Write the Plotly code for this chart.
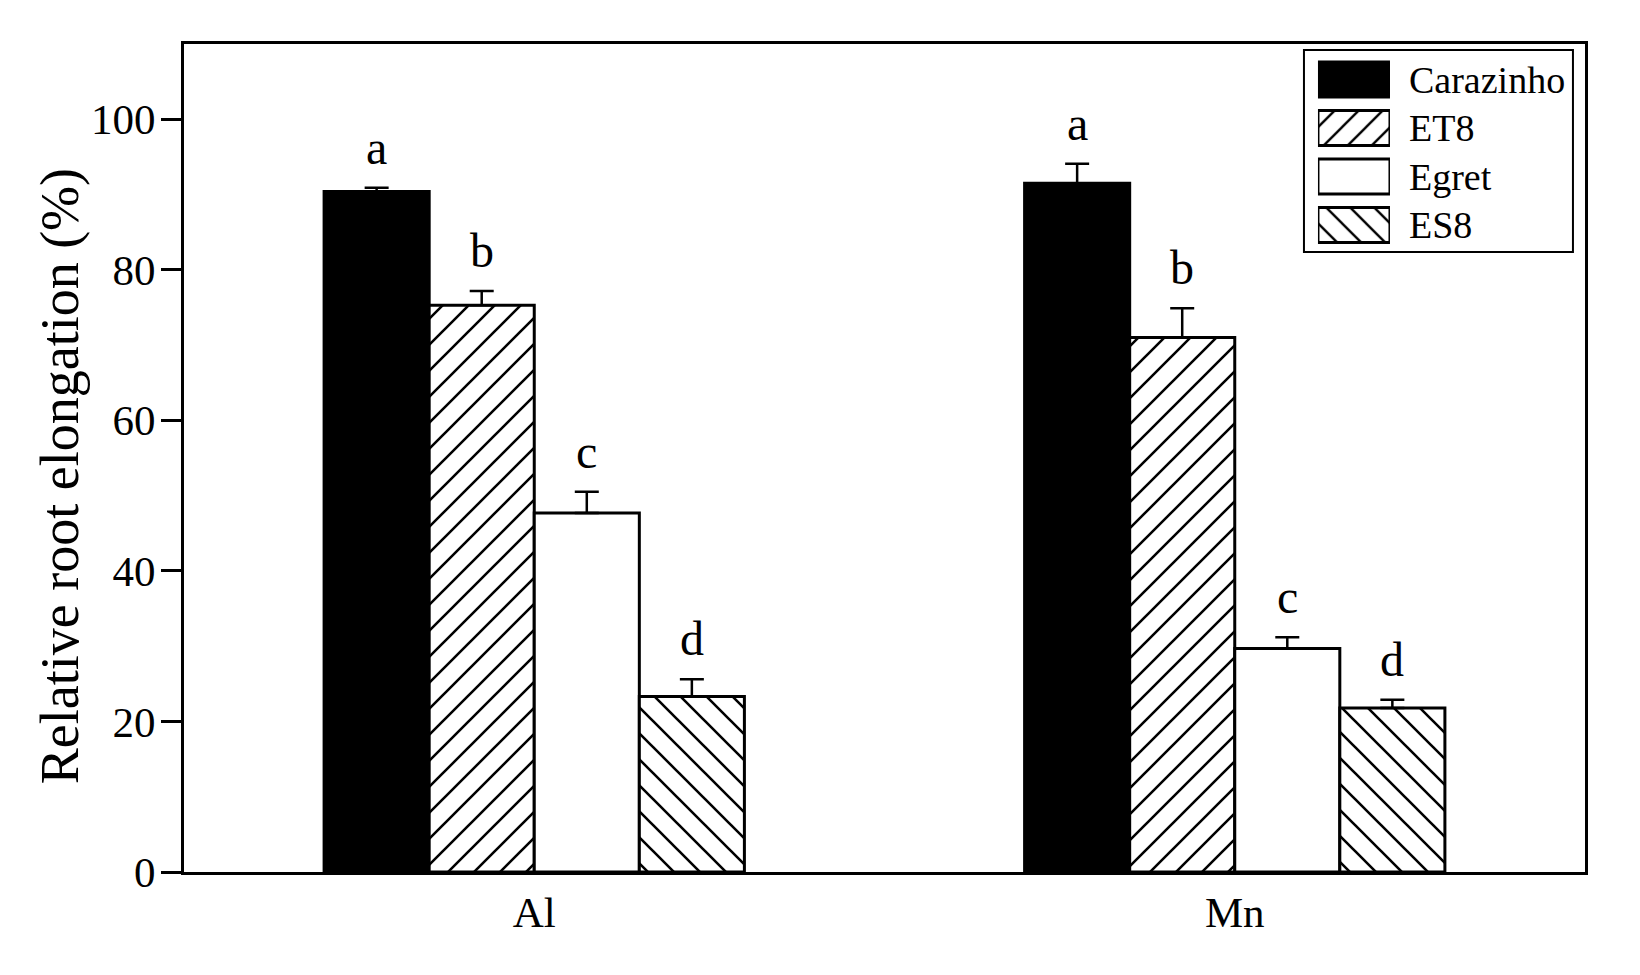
import math
import plotly.graph_objects as go

# metal treatments on the x axis
treatments = ["Al", "Mn"]

# genotypes (series)
genotypes = ["Carazinho", "ET8", "Egret", "ES8"]

# relative root elongation (%) and standard errors
carazinho = [90.4, 91.5]
carazinho_err = [0.5, 2.6]
et8 = [75.3, 71.0]
et8_err = [1.9, 3.9]
egret = [47.7, 29.7]
egret_err = [2.8, 1.5]
es8 = [23.3, 21.8]
es8_err = [2.3, 1.1]

# significance letters
letters = ["a", "b", "c", "d"]

y_ticks = [0, 20, 40, 60, 80, 100]

FONT = "Liberation Serif"
values = [carazinho, et8, egret, es8]
errors = [carazinho_err, et8_err, egret_err, es8_err]
fills = ["black", "white", "white", "white"]
hatches = ["", "/", "", "\\"]

# plotly's diagonal tile is size*sqrt(2) wide, so pick sizes giving whole-pixel tiles
hatch_size = 26 / math.sqrt(2)
legend_hatch_size = 24 / math.sqrt(2)

fig = go.Figure()

for name, vals, errs, fill, hatch in zip(genotypes, values, errors, fills, hatches):
    fig.add_trace(go.Bar(
        x=treatments,
        y=vals,
        name=name,
        marker=dict(color=fill,
                    line=dict(color="black", width=3),
                    pattern=dict(shape=hatch, fgcolor="black", bgcolor=fill,
                                 fgopacity=1, fillmode="replace",
                                 size=hatch_size, solidity=0.14)),
        error_y=dict(type="data", array=errs, symmetric=False,
                     arrayminus=[0] * len(errs),
                     color="black", thickness=2.5, width=12),
        showlegend=False,
    ))

# letters above each bar
bar_w = 0.15
for j, (vals, errs) in enumerate(zip(values, errors)):
    for i in range(len(treatments)):
        fig.add_annotation(x=i + (j - 1.5) * bar_w, y=vals[i] + errs[i],
                           xref="x", yref="y", text=letters[j],
                           showarrow=False, yanchor="bottom", yshift=12,
                           font=dict(family=FONT, size=48, color="black"))

# y-axis title (sits a little below the plot centre in the original)
fig.add_annotation(x=-0.0885, y=0.478, xref="paper", yref="paper",
                   text="Relative root elongation (%)", textangle=-90,
                   showarrow=False, xanchor="center", yanchor="middle",
                   font=dict(family=FONT, size=54, color="black"))

# legend drawn as a small inset bar chart so the swatches keep their hatching;
# one trace per genotype, all in the same offsetgroup so they stack in one column
for name, fill, hatch in zip(genotypes, fills, hatches):
    fig.add_trace(go.Bar(
        x=[1],
        y=[name],
        orientation="h",
        width=0.72,
        offsetgroup="legend",
        xaxis="x2", yaxis="y2",
        marker=dict(color=fill,
                    line=dict(color="black", width=3),
                    pattern=dict(shape=hatch, fgcolor="black", bgcolor=fill,
                                 fgopacity=1, fillmode="replace",
                                 size=legend_hatch_size, solidity=0.14)),
        showlegend=False,
        hoverinfo="skip",
    ))

axis_font = dict(family=FONT, size=43, color="black")

fig.update_layout(
    width=1640,
    height=975,
    margin=dict(l=176, r=63, t=36, b=111),
    paper_bgcolor="white",
    plot_bgcolor="white",
    barmode="group",
    bargap=0.4,
    bargroupgap=0,
    showlegend=False,
    xaxis=dict(type="category", range=[-0.5, 1.5], showline=True, linecolor="black",
               linewidth=3, mirror=True, ticks="", showgrid=False, zeroline=False,
               tickfont=axis_font, ticklabelstandoff=0),
    yaxis=dict(range=[0, 110], tickvals=y_ticks, showline=True, linecolor="black",
               linewidth=3, mirror=True, ticks="outside", ticklen=20, tickwidth=3,
               tickcolor="black", showgrid=False, zeroline=False, tickfont=axis_font,
               ticklabelstandoff=-3),
    xaxis2=dict(domain=[0.8094, 0.8608], anchor="y2", range=[0, 1], visible=False),
    yaxis2=dict(domain=[0.7521, 0.9864], anchor="x2", side="right", type="category",
                categoryorder="array", categoryarray=genotypes,
                autorange="reversed", showline=False, ticks="", showgrid=False,
                zeroline=False, ticklabelstandoff=18,
                tickfont=dict(family=FONT, size=38, color="black")),
)

# legend frame
fig.add_shape(type="rect", xref="paper", yref="paper",
              x0=0.7994, x1=0.9914, y0=0.7488, y1=0.9928,
              line=dict(color="black", width=2), fillcolor="rgba(0,0,0,0)")

fig.write_html("out.html")
